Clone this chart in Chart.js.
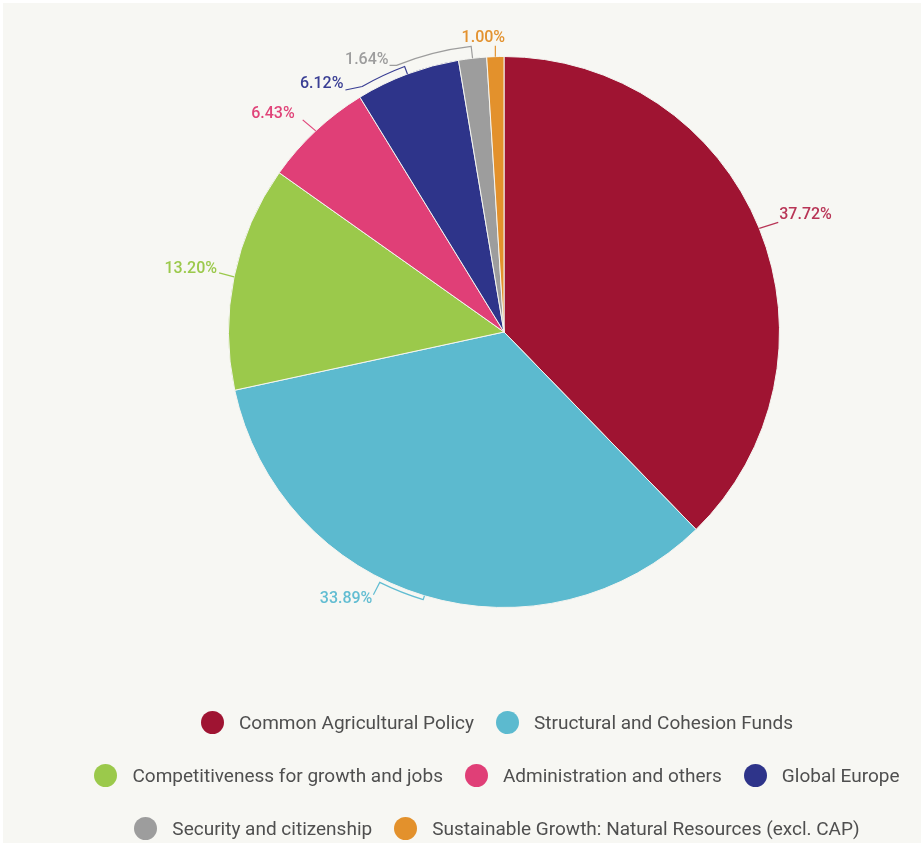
<!DOCTYPE html>
<html>
<head>
<meta charset="utf-8">
<script src="https://cdn.jsdelivr.net/npm/chart.js@4/dist/chart.umd.min.js"></script>
<style>
  html, body { margin: 0; padding: 0; background: #ffffff; }
  #wrap { position: relative; width: 921px; height: 843px; overflow: hidden; }
  #bg { position: absolute; left: 3px; top: 3px; right: 0; bottom: 0; background: #f7f7f3; }
  #budget { position: absolute; left: 0; top: 0; }
  #legend { position: absolute; left: 0; top: 696px; width: 994px; }
  .row { display: flex; justify-content: center; align-items: center; height: 53px; }
  .item { display: flex; align-items: center; margin: 0 11px; }
  .dot { width: 23px; height: 23px; border-radius: 50%; margin-right: 15px; }
  .txt { font: 19px Roboto, 'Liberation Sans', sans-serif; color: #4f4f4f; white-space: nowrap; }
</style>
</head>
<body>
<div id="wrap">
  <div id="bg"></div>
  <canvas id="budget" width="921" height="843"></canvas>
  <div id="legend"></div>
</div>
<script>
// Budget headings and their share of the total (%)
const categories = [
    'Common Agricultural Policy',
    'Structural and Cohesion Funds',
    'Competitiveness for growth and jobs',
    'Administration and others',
    'Global Europe',
    'Security and citizenship',
    'Sustainable Growth: Natural Resources (excl. CAP)'
];
const shares = [37.72, 33.89, 13.20, 6.43, 6.12, 1.64, 1.00];

const sliceColors = ['#9f1432', '#5cbacf', '#9bc94b', '#e03f77', '#2e348a', '#9d9d9d', '#e3912c'];
const labelColors = ['#b83556', '#62bdd2', '#9bc94b', '#e04479', '#3a3f94', '#9d9d9d', '#e3922f'];

// Legend rows (indices into categories)
const legendRows = [[0, 1], [2, 3, 4], [5, 6]];

// Leader/label placement, offsets relative to the slice edge at its mid angle
const labelLayout = [
    { kind: 'line', end: [19, -6], text: [20, -13], align: 'left' },
    { kind: 'bracket', tick: 4, sweep: 9.6, end: [-51, -1], text: [-52, 3], align: 'right' },
    { kind: 'line', end: [-15, -4], text: [-17, -8], align: 'right' },
    { kind: 'line', end: [-13, -11], text: [-21, -17], align: 'right' },
    { kind: 'bracket', tick: 8, sweep: -9.5, end: [-62, 16], text: [-64, 10], align: 'right' },
    { kind: 'bracket', tick: 12, sweep: -15.4, end: [-83, 7], text: [-84, 2], align: 'right' },
    { kind: 'line', end: [0, -11], text: [-12, -19], align: 'center' }
];

// Draw percentage labels with their leader lines
const sliceLabels = {
    id: 'sliceLabels',
    afterDatasetsDraw(chart) {
        const ctx = chart.ctx;
        const meta = chart.getDatasetMeta(0);
        ctx.save();
        ctx.font = '500 16px Roboto, "Liberation Sans", sans-serif';
        ctx.textBaseline = 'middle';
        ctx.lineWidth = 1.2;
        meta.data.forEach((arc, i) => {
            const L = labelLayout[i];
            const a = (arc.startAngle + arc.endAngle) / 2;
            const r = arc.outerRadius;
            const ex = arc.x + r * Math.cos(a);
            const ey = arc.y + r * Math.sin(a);
            ctx.strokeStyle = labelColors[i];
            ctx.fillStyle = labelColors[i];
            ctx.beginPath();
            ctx.moveTo(ex, ey);
            if (L.kind === 'bracket') {
                const r2 = r + L.tick;
                const a2 = a + L.sweep * Math.PI / 180;
                ctx.lineTo(arc.x + r2 * Math.cos(a), arc.y + r2 * Math.sin(a));
                ctx.arc(arc.x, arc.y, r2, a, a2, L.sweep < 0);
            }
            ctx.lineTo(ex + L.end[0], ey + L.end[1]);
            ctx.stroke();
            ctx.textAlign = L.align;
            ctx.fillText(shares[i].toFixed(2) + '%', ex + L.text[0], ey + L.text[1]);
        });
        ctx.restore();
    }
};

new Chart(document.getElementById('budget'), {
    type: 'pie',
    data: {
        labels: categories,
        datasets: [{
            data: shares,
            backgroundColor: sliceColors,
            borderColor: '#f4f4f0',
            borderWidth: 1
        }]
    },
    options: {
        responsive: false,
        devicePixelRatio: 1,
        animation: false,
        layout: { padding: { left: 228, right: 141, top: 56, bottom: 235 } },
        plugins: {
            legend: { display: false },
            tooltip: { enabled: false }
        }
    },
    plugins: [sliceLabels]
});

// Build the legend rows
const legend = document.getElementById('legend');
legendRows.forEach(row => {
    const rowEl = document.createElement('div');
    rowEl.className = 'row';
    row.forEach(i => {
        const item = document.createElement('div');
        item.className = 'item';
        item.innerHTML = '<span class="dot" style="background:' + sliceColors[i] + '"></span>' +
            '<span class="txt">' + categories[i] + '</span>';
        rowEl.appendChild(item);
    });
    legend.appendChild(rowEl);
});
</script>
</body>
</html>
